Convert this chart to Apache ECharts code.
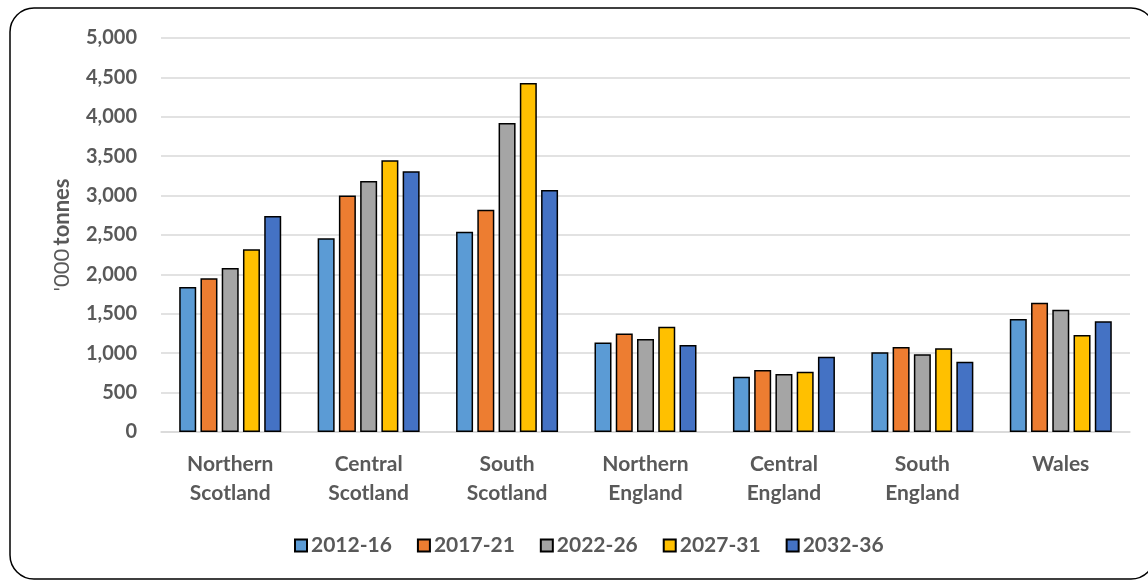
<!DOCTYPE html>
<html>
<head>
<meta charset="utf-8">
<script src="https://cdn.jsdelivr.net/npm/echarts@6/dist/echarts.min.js"></script>
<style>
  html, body { margin: 0; padding: 0; background: #fff; }
  #chart { width: 1148px; height: 581px; }
</style>
</head>
<body>
<div id="chart"></div>
<script>
const categories = [
  "Northern\nScotland", "Central\nScotland", "South\nScotland",
  "Northern\nEngland", "Central\nEngland", "South\nEngland", "Wales"
];
const periods = ["2012-16", "2017-21", "2022-26", "2027-31", "2032-36"];
const data2012 = [1840, 2460, 2540, 1135, 702, 1012, 1435];
const data2017 = [1950, 3000, 2820, 1250, 787, 1080, 1640];
const data2022 = [2080, 3185, 3920, 1180, 737, 987, 1552];
const data2027 = [2320, 3450, 4430, 1335, 765, 1062, 1232];
const data2032 = [2740, 3310, 3070, 1105, 956, 893, 1405];
const colors = ["#5B9BD5", "#ED7D31", "#A5A5A5", "#FFC000", "#4472C4"];

const textColor = "#595959";
const font = "Lato, 'Open Sans', sans-serif";

const chart = echarts.init(document.getElementById("chart"));

const allData = [data2012, data2017, data2022, data2027, data2032];

chart.setOption({
  animation: false,
  graphic: [
    {
      type: "rect",
      shape: { x: 10, y: 8, width: 1145, height: 571, r: 24 },
      style: { fill: "none", stroke: "#000", lineWidth: 1.5 },
      silent: true,
    },
  ],
  grid: {
    left: 161,
    right: 18,
    top: 38,
    bottom: 149,
  },
  legend: {
    bottom: 20,
    left: 289,
    itemWidth: 12,
    itemHeight: 12,
    itemGap: 25,
    icon: "rect",
    textStyle: {
      color: textColor,
      fontSize: 21,
      fontWeight: "bold",
      fontFamily: font,
      padding: [0, 0, 0, -1],
    },
    data: periods,
  },
  xAxis: {
    type: "category",
    data: categories,
    axisTick: { show: false },
    axisLine: { lineStyle: { color: "#d9d9d9", width: 1.5 } },
    axisLabel: {
      color: textColor,
      fontSize: 21,
      fontWeight: "bold",
      fontFamily: font,
      lineHeight: 29,
      margin: 18,
    },
  },
  yAxis: {
    type: "value",
    min: 0,
    max: 5000,
    interval: 500,
    name: "{a|'000} {b|tonnes}",
    nameLocation: "middle",
    nameGap: 88,
    nameRotate: 90,
    nameTextStyle: {
      rich: {
        a: { fontSize: 22, color: textColor, fontFamily: font },
        b: { fontSize: 22, color: textColor, fontWeight: "bold", fontFamily: font },
      },
    },
    axisLine: { show: false },
    axisTick: { show: false },
    splitLine: { lineStyle: { color: "#d9d9d9", width: 1.5 } },
    axisLabel: {
      color: textColor,
      fontSize: 20,
      fontWeight: "bold",
      fontFamily: font,
      margin: 24,
      formatter: (v) => v.toLocaleString("en-GB"),
    },
  },
  series: periods.map((p, i) => ({
    name: p,
    type: "bar",
    data: allData[i],
    barWidth: 17,
    barGap: "25%",
    itemStyle: {
      color: colors[i],
      borderColor: "#000",
      borderWidth: 1.5,
    },
  })),
});
</script>
</body>
</html>
